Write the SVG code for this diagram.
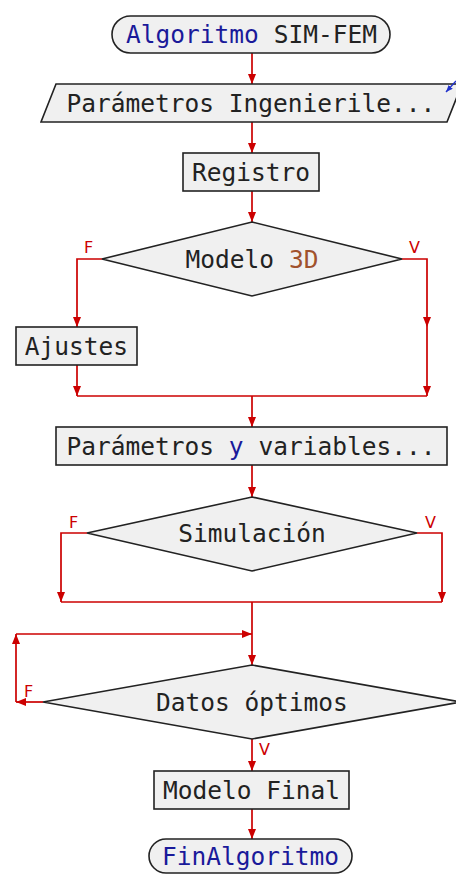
<svg xmlns="http://www.w3.org/2000/svg" width="456" height="874" viewBox="0 0 456 874">
<defs>
<marker id="ah" viewBox="0 0 10 8" refX="10" refY="4" markerWidth="10" markerHeight="8" markerUnits="userSpaceOnUse" orient="auto">
<path d="M0,0 L10,4 L0,8 z" fill="#cc0000"/>
</marker>
<marker id="bh" viewBox="0 0 10 8" refX="10" refY="4" markerWidth="7" markerHeight="6" markerUnits="userSpaceOnUse" orient="auto">
<path d="M0,0 L10,4 L0,8 z" fill="#2233cc"/>
</marker>
<style>
.n{fill:#f0f0f0;stroke:#222;stroke-width:1.6}
.t{font-family:"DejaVu Sans Mono","Liberation Mono",monospace;font-size:24.5px;fill:#222;text-anchor:middle}
.kw{fill:#1a1a9a}
.num{fill:#a0522d}
.c{fill:none;stroke:#cc0000;stroke-width:1.7}
.a{marker-end:url(#ah)}
.l{font-family:"DejaVu Sans","Liberation Sans",sans-serif;font-size:16px;fill:#cc0000}
</style>
</defs>
<rect width="456" height="874" fill="#ffffff"/>
<g id="connectors">
<path class="c a" d="M252,53 V84"/>
<path class="c a" d="M252,122 V153"/>
<path class="c a" d="M252,191 V222"/>
<path class="c a" d="M102,259 H77 V327"/>
<path class="c a" d="M402,259 H427 V327"/>
<path class="c a" d="M427,327 V396"/>
<path class="c a" d="M77,365 V396"/>
<path class="c" d="M77,396 H427"/>
<path class="c a" d="M252,396 V427"/>
<path class="c a" d="M252,465 V497"/>
<path class="c a" d="M87,533 H61 V602"/>
<path class="c a" d="M417,533 H442 V602"/>
<path class="c" d="M61,602 H442"/>
<path class="c a" d="M252,602 V665"/>
<path class="c a" d="M43,702 H16"/>
<path class="c a" d="M16,702 V634"/>
<path class="c a" d="M16,634 H252"/>
<path class="c a" d="M252,739 V771"/>
<path class="c a" d="M252,809 V839"/>
<text class="l" x="84" y="253">F</text>
<text class="l" x="409" y="253">V</text>
<text class="l" x="69" y="528">F</text>
<text class="l" x="425" y="528">V</text>
<text class="l" x="24" y="697">F</text>
<text class="l" x="259" y="755">V</text>
</g>
<g id="start">
<rect class="n" x="112" y="16" width="278" height="37" rx="18.5"/>
<text class="t" x="251.5" y="42.5"><tspan class="kw">Algoritmo</tspan> SIM-FEM</text>
</g>
<g id="params">
<polygon class="n" points="56,84 462,84 447,122 41,122"/>
<text class="t" x="251" y="111.5">Parámetros Ingenierile...</text>
<path d="M456,81 L446,92" stroke="#2233cc" stroke-width="1.4" fill="none" marker-end="url(#bh)"/>
</g>
<g id="registro">
<rect class="n" x="183" y="153" width="136" height="38"/>
<text class="t" x="251" y="180.5">Registro</text>
</g>
<g id="modelo3d">
<polygon class="n" points="252,222 402,259 252,296 102,259"/>
<text class="t" x="252" y="267.5">Modelo <tspan class="num">3D</tspan></text>
</g>
<g id="ajustes">
<rect class="n" x="16" y="327" width="121" height="38"/>
<text class="t" x="76.5" y="354.5">Ajustes</text>
</g>
<g id="variables">
<rect class="n" x="56" y="427" width="391" height="38"/>
<text class="t" x="251" y="454.5">Parámetros <tspan class="kw">y</tspan> variables...</text>
</g>
<g id="simulacion">
<polygon class="n" points="252,497 417,533 252,571 87,533"/>
<text class="t" x="252" y="541.5">Simulación</text>
</g>
<g id="datos">
<polygon class="n" points="252,665 461,702 252,739 43,702"/>
<text class="t" x="252" y="710.5">Datos óptimos</text>
</g>
<g id="final">
<rect class="n" x="154" y="771" width="195" height="38"/>
<text class="t" x="251.5" y="798.5">Modelo Final</text>
</g>
<g id="end">
<rect class="n" x="149" y="839" width="203" height="34" rx="17"/>
<text class="t" x="250.5" y="864.5"><tspan class="kw">FinAlgoritmo</tspan></text>
</g>
</svg>
